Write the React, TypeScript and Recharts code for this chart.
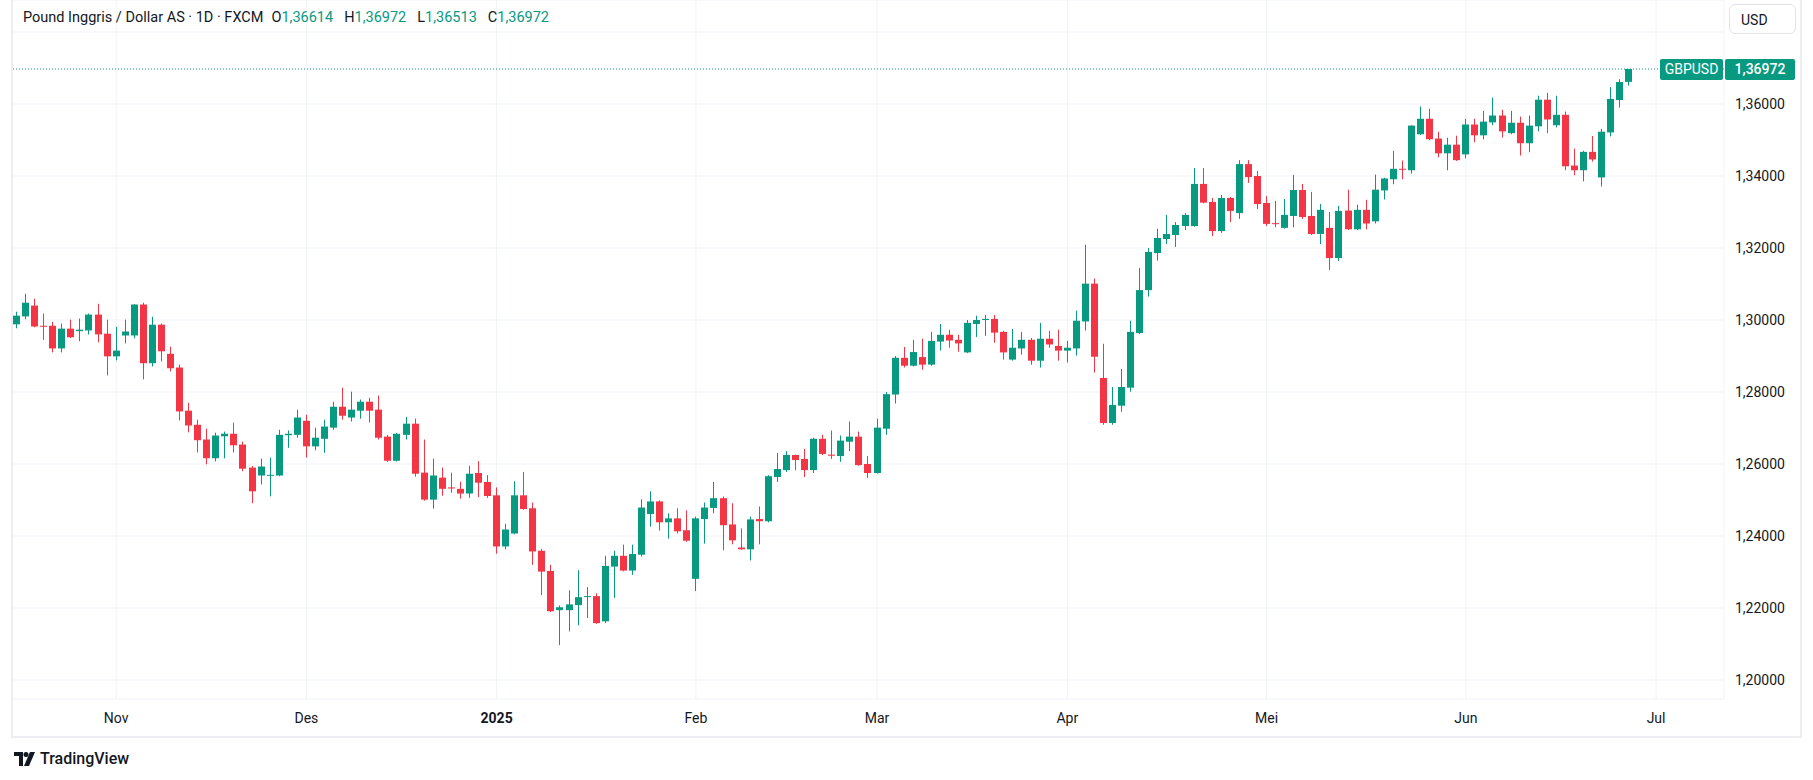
import { ComposedChart, Bar, XAxis, YAxis, CartesianGrid, ReferenceLine } from "recharts";

// daily GBPUSD candles, 17 Oct 2024 .. 26 Jun 2025
const opens = [
  1.2988, 1.3010, 1.3040, 1.2984, 1.2984, 1.2921, 1.2976, 1.2969, 1.2971, 1.3015,
  1.2962, 1.2899, 1.2957, 1.2957, 1.3043, 1.2880, 1.2987, 1.2906, 1.2868, 1.2748,
  1.2709, 1.2668, 1.2616, 1.2677, 1.2684, 1.2654, 1.2590, 1.2568, 1.2568, 1.2568,
  1.2680, 1.2681, 1.2720, 1.2649, 1.2670, 1.2701, 1.2759, 1.2729, 1.2748, 1.2773,
  1.2751, 1.2676, 1.2609, 1.2681, 1.2712, 1.2576, 1.2501, 1.2562, 1.2535, 1.2531,
  1.2518, 1.2575, 1.2550, 1.2513, 1.2371, 1.2407, 1.2513, 1.2477, 1.2359, 1.2303,
  1.2194, 1.2194, 1.2208, 1.2231, 1.2233, 1.2163, 1.2315, 1.2345, 1.2304, 1.2348,
  1.2461, 1.2496, 1.2438, 1.2449, 1.2416, 1.2281, 1.2447, 1.2478, 1.2505, 1.2432,
  1.2368, 1.2363, 1.2447, 1.2441, 1.2564, 1.2583, 1.2625, 1.2614, 1.2583, 1.2670,
  1.2626, 1.2622, 1.2662, 1.2676, 1.2600, 1.2575, 1.2698, 1.2793, 1.2895, 1.2873,
  1.2897, 1.2876, 1.2940, 1.2959, 1.2945, 1.2910, 1.2989, 1.3000, 1.3003, 1.2967,
  1.2890, 1.2921, 1.2945, 1.2887, 1.2948, 1.2928, 1.2915, 1.2921, 1.2996, 1.3101,
  1.2839, 1.2714, 1.2762, 1.2812, 1.2964, 1.3083, 1.3186, 1.3225, 1.3236, 1.3261,
  1.3261, 1.3378, 1.3328, 1.3247, 1.3339, 1.3297, 1.3433, 1.3400, 1.3325, 1.3269,
  1.3256, 1.3289, 1.3361, 1.3289, 1.3239, 1.3256, 1.3172, 1.3304, 1.3252, 1.3306,
  1.3274, 1.3360, 1.3391, 1.3420, 1.3416, 1.3516, 1.3559, 1.3504, 1.3463, 1.3487,
  1.3460, 1.3543, 1.3513, 1.3549, 1.3568, 1.3519, 1.3548, 1.3491, 1.3538, 1.3612,
  1.3541, 1.3570, 1.3429, 1.3416, 1.3467, 1.3396, 1.3521, 1.3611, 1.36614,
];
const highs = [
  1.3023, 1.3073, 1.3059, 1.3018, 1.2995, 1.2990, 1.3001, 1.3004, 1.3018, 1.3045,
  1.3001, 1.2981, 1.3001, 1.3044, 1.3048, 1.3009, 1.2990, 1.2926, 1.2876, 1.2770,
  1.2723, 1.2698, 1.2687, 1.2690, 1.2715, 1.2662, 1.2594, 1.2615, 1.2618, 1.2695,
  1.2693, 1.2751, 1.2737, 1.2701, 1.2723, 1.2773, 1.2812, 1.2801, 1.2779, 1.2784,
  1.2790, 1.2681, 1.2686, 1.2731, 1.2726, 1.2668, 1.2615, 1.2590, 1.2576, 1.2551,
  1.2595, 1.2608, 1.2569, 1.2535, 1.2434, 1.2552, 1.2578, 1.2493, 1.2364, 1.2320,
  1.2207, 1.2249, 1.2305, 1.2258, 1.2241, 1.2345, 1.2359, 1.2376, 1.2376, 1.2502,
  1.2524, 1.2499, 1.2463, 1.2477, 1.2471, 1.2454, 1.2493, 1.2550, 1.2510, 1.2491,
  1.2421, 1.2454, 1.2482, 1.2569, 1.2631, 1.2636, 1.2626, 1.2642, 1.2673, 1.2681,
  1.2693, 1.2679, 1.2718, 1.2690, 1.2622, 1.2726, 1.2800, 1.2900, 1.2925, 1.2945,
  1.2948, 1.2967, 1.2989, 1.2973, 1.2959, 1.3000, 1.3012, 1.3014, 1.3014, 1.2970,
  1.2975, 1.2967, 1.2950, 1.2992, 1.2970, 1.2973, 1.2942, 1.3026, 1.3209, 1.3115,
  1.2934, 1.2814, 1.2864, 1.2998, 1.3144, 1.3200, 1.3253, 1.3292, 1.3272, 1.3297,
  1.3422, 1.3422, 1.3339, 1.3347, 1.3342, 1.3444, 1.3444, 1.3414, 1.3344, 1.3331,
  1.3336, 1.3403, 1.3378, 1.3356, 1.3322, 1.3300, 1.3317, 1.3362, 1.3320, 1.3334,
  1.3404, 1.3395, 1.3470, 1.3443, 1.3541, 1.3593, 1.3587, 1.3523, 1.3506, 1.3512,
  1.3559, 1.3559, 1.3581, 1.3618, 1.3584, 1.3581, 1.3565, 1.3568, 1.3623, 1.3631,
  1.3623, 1.3579, 1.3476, 1.3470, 1.3511, 1.3531, 1.3647, 1.3669, 1.36972,
];
const lows = [
  1.2977, 1.3002, 1.2980, 1.2945, 1.2910, 1.2910, 1.2950, 1.2941, 1.2960, 1.2938,
  1.2846, 1.2888, 1.2935, 1.2949, 1.2835, 1.2871, 1.2885, 1.2857, 1.2721, 1.2688,
  1.2632, 1.2599, 1.2607, 1.2616, 1.2632, 1.2580, 1.2491, 1.2543, 1.2510, 1.2566,
  1.2645, 1.2673, 1.2618, 1.2638, 1.2631, 1.2695, 1.2723, 1.2718, 1.2726, 1.2715,
  1.2668, 1.2606, 1.2607, 1.2668, 1.2565, 1.2498, 1.2476, 1.2512, 1.2520, 1.2504,
  1.2506, 1.2508, 1.2506, 1.2351, 1.2363, 1.2405, 1.2473, 1.2320, 1.2236, 1.2189,
  1.2097, 1.2135, 1.2152, 1.2172, 1.2156, 1.2158, 1.2228, 1.2302, 1.2292, 1.2343,
  1.2426, 1.2415, 1.2393, 1.2407, 1.2384, 1.2247, 1.2379, 1.2463, 1.2360, 1.2377,
  1.2362, 1.2332, 1.2377, 1.2438, 1.2550, 1.2578, 1.2583, 1.2564, 1.2575, 1.2625,
  1.2614, 1.2606, 1.2636, 1.2595, 1.2561, 1.2573, 1.2681, 1.2768, 1.2868, 1.2871,
  1.2862, 1.2873, 1.2915, 1.2923, 1.2912, 1.2908, 1.2953, 1.2956, 1.2937, 1.2890,
  1.2887, 1.2904, 1.2876, 1.2868, 1.2923, 1.2887, 1.2882, 1.2901, 1.2971, 1.2854,
  1.2709, 1.2709, 1.2745, 1.2801, 1.2961, 1.3065, 1.3165, 1.3211, 1.3203, 1.3250,
  1.3259, 1.3324, 1.3233, 1.3242, 1.3272, 1.3281, 1.3381, 1.3308, 1.3261, 1.3258,
  1.3254, 1.3258, 1.3281, 1.3236, 1.3211, 1.3139, 1.3164, 1.3250, 1.3250, 1.3252,
  1.3268, 1.3335, 1.3377, 1.3391, 1.3407, 1.3514, 1.3500, 1.3452, 1.3416, 1.3442,
  1.3449, 1.3494, 1.3502, 1.3541, 1.3507, 1.3516, 1.3457, 1.3466, 1.3524, 1.3519,
  1.3535, 1.3416, 1.3402, 1.3385, 1.3440, 1.3371, 1.3510, 1.3590, 1.36513,
];
const closes = [
  1.3012, 1.3048, 1.2982, 1.2982, 1.2921, 1.2976, 1.2952, 1.2973, 1.3015, 1.2960,
  1.2899, 1.2915, 1.2968, 1.3043, 1.2880, 1.2987, 1.2913, 1.2866, 1.2746, 1.2707,
  1.2666, 1.2616, 1.2679, 1.2684, 1.2652, 1.2587, 1.2524, 1.2593, 1.2570, 1.2681,
  1.2684, 1.2729, 1.2649, 1.2673, 1.2704, 1.2759, 1.2734, 1.2751, 1.2773, 1.2748,
  1.2673, 1.2609, 1.2684, 1.2712, 1.2573, 1.2501, 1.2568, 1.2531, 1.2532, 1.2518,
  1.2573, 1.2548, 1.2511, 1.2371, 1.2418, 1.2513, 1.2475, 1.2357, 1.2301, 1.2191,
  1.2202, 1.2210, 1.2230, 1.2233, 1.2158, 1.2317, 1.2345, 1.2304, 1.2350, 1.2479,
  1.2496, 1.2438, 1.2449, 1.2413, 1.2387, 1.2449, 1.2479, 1.2505, 1.2430, 1.2388,
  1.2363, 1.2446, 1.2441, 1.2566, 1.2586, 1.2625, 1.2611, 1.2583, 1.2670, 1.2628,
  1.2623, 1.2665, 1.2676, 1.2597, 1.2575, 1.2701, 1.2794, 1.2895, 1.2873, 1.2911,
  1.2876, 1.2942, 1.2959, 1.2943, 1.2935, 1.2992, 1.3000, 1.3003, 1.2965, 1.2910,
  1.2923, 1.2945, 1.2887, 1.2948, 1.2932, 1.2915, 1.2923, 1.2998, 1.3101, 1.2898,
  1.2714, 1.2764, 1.2814, 1.2967, 1.3083, 1.3189, 1.3228, 1.3239, 1.3264, 1.3292,
  1.3378, 1.3326, 1.3247, 1.3339, 1.3303, 1.3433, 1.3397, 1.3322, 1.3267, 1.3267,
  1.3292, 1.3361, 1.3286, 1.3239, 1.3306, 1.3172, 1.3303, 1.3252, 1.3306, 1.3268,
  1.3362, 1.3393, 1.3420, 1.3418, 1.3540, 1.3559, 1.3502, 1.3463, 1.3487, 1.3444,
  1.3543, 1.3513, 1.3551, 1.3568, 1.3524, 1.3548, 1.3491, 1.3540, 1.3612, 1.3557,
  1.3570, 1.3427, 1.3416, 1.3467, 1.3446, 1.3523, 1.3614, 1.3661, 1.36972,
];

// month ticks sit on the first bar of each month (Jul is past the last bar)
const tickIndex = [11, 32, 53, 75, 95, 116, 138, 160, 181];
const tickLabels = ["Nov", "Des", "2025", "Feb", "Mar", "Apr", "Mei", "Jun", "Jul"];
const priceTicks = [1.2, 1.22, 1.24, 1.26, 1.28, 1.3, 1.32, 1.34, 1.36, 1.38];
const lastPrice = 1.36972;

const UP = "#089981";
const DOWN = "#f23645";
const TEXT = "#131722";
const FONT = "Roboto, 'Noto Sans', sans-serif";
const SLOTS = 189; // bars + empty space on the right

const data = Array.from({ length: SLOTS }, (_, i) =>
  i < opens.length
    ? { i, o: opens[i], h: highs[i], l: lows[i], c: closes[i] }
    : { i }
);

const fmt = (v: number) => v.toFixed(5).replace(".", ",");

function Candle(props: any) {
  const { x, y, width, height, payload } = props;
  if (payload == null || payload.h == null) return null;
  const top = Math.min(y, y + height);
  const h = Math.abs(height);
  const ppu = h / (payload.h - payload.l);
  const color = payload.c >= payload.o ? UP : DOWN;
  const bodyTop = top + (payload.h - Math.max(payload.o, payload.c)) * ppu;
  const bodyH = Math.max(1, Math.abs(payload.o - payload.c) * ppu);
  const cx = Math.round(x + width / 2 - 0.5);
  return (
    <g>
      <rect x={cx} y={top} width={1} height={h} fill={color} />
      <rect x={Math.round(x)} y={bodyTop} width={width} height={bodyH} fill={color} />
    </g>
  );
}

function TimeTick(props: any) {
  const { x, y, payload } = props;
  const label = tickLabels[tickIndex.indexOf(payload.value)];
  return (
    <text
      x={x}
      y={y}
      dy="0.71em"
      textAnchor="middle"
      fontSize={14}
      fontFamily={FONT}
      fontWeight={label === "2025" ? 700 : 400}
      fill={TEXT}
    >
      {label}
    </text>
  );
}

function PriceTick(props: any) {
  const { x, y, payload } = props;
  if (payload.value > 1.37) return null;
  return (
    <text x={x} y={y} dy="0.35em" fontSize={14} fontFamily={FONT} fill={TEXT}>
      {fmt(payload.value)}
    </text>
  );
}

function PriceTag(props: any) {
  const { viewBox } = props;
  if (!viewBox) return null;
  const right = viewBox.x + viewBox.width;
  const y = viewBox.y;
  return (
    <g fontFamily={FONT} fontSize={14} fill="#fff">
      <rect x={right - 64} y={y - 10} width={63} height={21} rx={2} fill={UP} />
      <text x={right - 32.5} y={y} dy="0.35em" textAnchor="middle" fill="#fff">
        GBPUSD
      </text>
      <rect x={right + 1} y={y - 10} width={70} height={21} rx={2} fill={UP} />
      <text x={right + 36} y={y} dy="0.35em" textAnchor="middle" fontWeight={500} fill="#fff">
        {fmt(lastPrice)}
      </text>
    </g>
  );
}

export default function App() {
  return (
    <div
      style={{
        position: "absolute",
        left: 0,
        top: 0,
        width: 1813,
        height: 780,
        background: "#fff",
        fontFamily: FONT,
        color: TEXT,
      }}
    >
      <ComposedChart
        width={1813}
        height={735}
        data={data}
        margin={{ top: 0, right: 13, left: 12, bottom: 0 }}
      >
        <CartesianGrid stroke="#f0f3fa" />
        <XAxis
          dataKey="i"
          type="category"
          ticks={tickIndex}
          interval={0}
          axisLine={false}
          tickLine={false}
          tickSize={0}
          tickMargin={14}
          height={36}
          tick={<TimeTick />}
        />
        <YAxis
          orientation="right"
          type="number"
          domain={[1.19472, 1.388889]}
          allowDataOverflow
          ticks={priceTicks}
          width={76}
          axisLine={false}
          tickLine={false}
          tickSize={0}
          tickMargin={11}
          tick={<PriceTick />}
        />
        <ReferenceLine
          y={lastPrice}
          stroke={UP}
          strokeDasharray="1 2"
          label={<PriceTag />}
        />
        <Bar
          dataKey={(d: any) => (d.h == null ? null : [d.l, d.h])}
          barSize={7}
          shape={<Candle />}
          isAnimationActive={false}
        />
      </ComposedChart>

      {/* frame */}
      <div style={{ position: "absolute", left: 11, top: 0, width: 2, height: 737, background: "#eceef2" }} />
      <div style={{ position: "absolute", left: 11, top: 736, width: 1791, height: 2, background: "#eceef2" }} />
      <div style={{ position: "absolute", left: 1800, top: 0, width: 2, height: 738, background: "#eceef2" }} />

      {/* legend */}
      <div style={{ position: "absolute", left: 23, top: 8, fontSize: 14.5, lineHeight: "20px", whiteSpace: "nowrap" }}>
        <span>Pound Inggris / Dollar AS · 1D · FXCM</span>
        <span style={{ marginLeft: 8 }}>O</span>
        <span style={{ color: UP }}>1,36614</span>
        <span style={{ marginLeft: 11 }}>H</span>
        <span style={{ color: UP }}>1,36972</span>
        <span style={{ marginLeft: 11 }}>L</span>
        <span style={{ color: UP }}>1,36513</span>
        <span style={{ marginLeft: 11 }}>C</span>
        <span style={{ color: UP }}>1,36972</span>
      </div>

      {/* currency button */}
      <div
        style={{
          position: "absolute",
          left: 1729,
          top: 4,
          width: 67,
          height: 30,
          border: "1px solid #e0e3eb",
          borderRadius: 6,
          fontSize: 14,
          lineHeight: "30px",
          paddingLeft: 11,
          boxSizing: "border-box",
        }}
      >
        USD
      </div>

      {/* watermark */}
      <div style={{ position: "absolute", left: 14, top: 749, display: "flex", alignItems: "center", gap: 4 }}>
        <svg width={22} height={14} viewBox="0 0 22 14">
          <path d="M0 0h9v14H5V4H0z" fill={TEXT} />
          <circle cx={12} cy={2.5} r={2.5} fill={TEXT} />
          <path d="M16 0h5l-6 14h-5z" fill={TEXT} />
        </svg>
        <span style={{ fontSize: 16, fontWeight: 500 }}>TradingView</span>
      </div>
    </div>
  );
}
